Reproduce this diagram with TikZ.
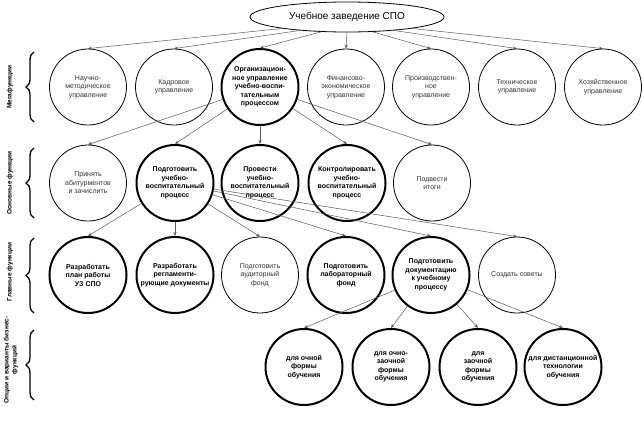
\documentclass[tikz,border=0pt]{standalone}
\usepackage{fontspec}
\setmainfont{Liberation Sans}
\usetikzlibrary{arrows.meta,shapes.geometric,decorations.pathreplacing}
\begin{document}
\begin{tikzpicture}[x=1pt,y=-1pt,
  fn/.style={ellipse, draw=black, line width=0.8pt, minimum width=77pt, minimum height=76pt,
    inner xsep=-8pt, inner ysep=-4pt, align=center,
    font=\fontsize{7}{8.5}\selectfont, text=black!80},
  fnb/.style={fn, line width=2pt, font=\fontsize{7}{8.5}\selectfont\bfseries, text=black},
  arr/.style={draw=black!65, line width=0.5pt, -{Stealth[length=4pt,width=3.2pt]}},
  br/.style={decorate, decoration={brace, amplitude=8pt}, line width=1.3pt},
  lab/.style={rotate=90, font=\fontsize{6.5}{8}\selectfont\bfseries, align=center}
]
\useasboundingbox (0,0) rectangle (642,436);

% top
\node[ellipse, draw=black, line width=0.8pt, minimum width=194pt, minimum height=30pt,
  inner sep=0pt, font=\fontsize{10}{12}\selectfont] (top) at (347,17) {Учебное заведение СПО};

% row 1
\node[fn]  (m1) at (88,87)  {Научно-\\методическое\\управление};
\node[fn]  (m2) at (174,87) {Кадровое\\управление};
\node[fnb] (m3) at (260,87) {Организацион-\\ное управление\\учебно-воспи-\\тательным\\процессом};
\node[fn]  (m4) at (346,87) {Финансово-\\экономическое\\управление};
\node[fn]  (m5) at (431,87) {Производствен-\\ное\\управление};
\node[fn]  (m6) at (517,87) {Техническое\\управление};
\node[fn]  (m7) at (603,87) {Хозяйственное\\управление};

% row 2
\node[fn]  (o1) at (88,183)  {Принять\\абитурментов\\и зачислить};
\node[fnb] (o2) at (175,183) {Подготовить\\учебно-\\воспитательный\\процесс};
\node[fnb] (o3) at (260,183) {Провести\\учебно-\\воспитательный\\процесс};
\node[fnb] (o4) at (347,183) {Контролировать\\учебно-\\воспитательный\\процесс};
\node[fn]  (o5) at (432,183) {Подвести\\итоги};

% row 3
\node[fnb] (g1) at (88,275)  {Разработать\\план работы\\УЗ СПО};
\node[fnb] (g2) at (175,275) {Разработать\\регламенти-\\рующие документы};
\node[fn]  (g3) at (260,275) {Подготовить\\аудиторный\\фонд};
\node[fnb] (g4) at (346,275) {Подготовить\\лабораторный\\фонд};
\node[fnb] (g5) at (431,275) {Подготовить\\документацию\\к учебному\\процессу};
\node[fn]  (g6) at (517,275) {Создать советы};

% row 4
\node[fnb] (v1) at (304,367) {для очной\\формы\\обучения};
\node[fnb] (v2) at (391,367) {для очно-\\заочной\\формы\\обучения};
\node[fnb] (v3) at (478,367) {для\\заочной\\формы\\обучения};
\node[fnb] (v4) at (563,367) {для дистанционной\\технологии\\обучения};

% connectors
\draw[arr] (top.190) -- (m1.north);
\draw[arr] (top.196) -- (m2.north);
\draw[arr] (top.210) -- (m3.north);
\draw[arr] (top.270) -- (m4.north);
\draw[arr] (top.330) -- (m5.north);
\draw[arr] (top.344) -- (m6.north);
\draw[arr] (top.350) -- (m7.north);
\foreach \n in {o1,o2,o3,o4,o5} \draw[arr] (m3) -- (\n.north);
\foreach \n in {g1,g2,g3,g4,g5,g6} \draw[arr] (o2) -- (\n.north);
\foreach \n in {v1,v2,v3,v4} \draw[arr] (g5) -- (\n.north);

% braces
\coordinate (b1a) at (34,122); \coordinate (b1b) at (34,52);
\coordinate (b2a) at (34,218); \coordinate (b2b) at (34,148);
\coordinate (b3a) at (34,313); \coordinate (b3b) at (34,238);
\coordinate (b4a) at (34,400); \coordinate (b4b) at (34,330);
\draw[br] (b1a) -- (b1b);
\draw[br] (b2a) -- (b2b);
\draw[br] (b3a) -- (b3b);
\draw[br] (b4a) -- (b4b);

% row labels
\node[lab] (l1) at (10,87)  {Мегафункции};
\node[lab] (l2) at (10,183) {Основные функции};
\node[lab] (l3) at (10,272) {Главные функции};
\node[lab] (l4) at (11,360) {Опции и варианты бизнес-\\функций};
\end{tikzpicture}
\end{document}
